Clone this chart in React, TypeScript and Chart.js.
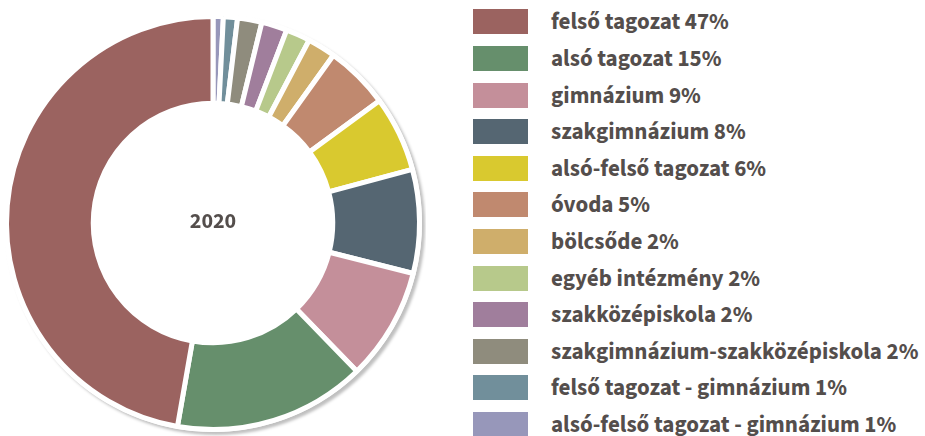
import React, { useEffect, useRef } from "react";
import { Chart, registerables } from "chart.js";

Chart.register(...registerables);

const centerLabel = "2020";
const categories = [
  "felső tagozat",
  "alsó tagozat",
  "gimnázium",
  "szakgimnázium",
  "alsó-felső tagozat",
  "óvoda",
  "bölcsőde",
  "egyéb intézmény",
  "szakközépiskola",
  "szakgimnázium-szakközépiskola",
  "felső tagozat - gimnázium",
  "alsó-felső tagozat - gimnázium",
];
const shares = [47.2, 15.0, 8.8, 8.1, 5.9, 5.0, 2.2, 1.9, 2.0, 1.9, 1.1, 0.8];
const percentLabels = ["47%", "15%", "9%", "8%", "6%", "5%", "2%", "2%", "2%", "2%", "1%", "1%"];
const colors = [
  "#9b6360",
  "#668f6c",
  "#c48f9a",
  "#556672",
  "#d9c92f",
  "#c0896f",
  "#cfae6b",
  "#b7c98b",
  "#a07e9c",
  "#8f8c7d",
  "#718f9b",
  "#9797ba",
];

const FONT = "'Source Sans 3', 'Source Sans Pro', Lato, sans-serif";
const TEXT_COLOR = "#544e4c";

const ringShadow = {
  id: "ringShadow",
  beforeDatasetsDraw(chart: any) {
    const arc = chart.getDatasetMeta(0).data[0];
    if (!arc) return;
    const { x, y, outerRadius } = arc.getProps(["x", "y", "outerRadius"], true);
    const ctx = chart.ctx;
    ctx.save();
    ctx.shadowColor = "rgba(0,0,0,0.25)";
    ctx.shadowBlur = 3;
    ctx.shadowOffsetX = 3;
    ctx.shadowOffsetY = 3;
    ctx.fillStyle = "#ffffff";
    ctx.beginPath();
    ctx.arc(x, y, outerRadius + 2.5, 0, Math.PI * 2);
    ctx.fill();
    ctx.restore();
  },
  afterDatasetsDraw(chart: any) {
    const arc = chart.getDatasetMeta(0).data[0];
    if (!arc) return;
    const { x, y } = arc.getProps(["x", "y"], true);
    const ctx = chart.ctx;
    ctx.save();
    ctx.font = `bold 22px ${FONT}`;
    ctx.fillStyle = TEXT_COLOR;
    ctx.textAlign = "center";
    ctx.textBaseline = "middle";
    ctx.fillText(centerLabel, x, y);
    ctx.restore();
  },
};

export default function App() {
  const canvasRef = useRef<HTMLCanvasElement | null>(null);

  useEffect(() => {
    if (!canvasRef.current) return;
    const order = categories.map((_, i) => i).reverse();
    const chart = new Chart(canvasRef.current, {
      type: "doughnut",
      data: {
        labels: order.map((i) => categories[i]),
        datasets: [
          {
            data: order.map((i) => shares[i]),
            backgroundColor: order.map((i) => colors[i]),
            borderColor: "#ffffff",
            borderWidth: 5,
          },
        ],
      },
      options: {
        responsive: false,
        animation: false,
        cutout: "58%",
        layout: { padding: { left: 4, right: 4, top: 14, bottom: 4 } },
        plugins: {
          legend: { display: false },
          tooltip: { enabled: false },
        },
      },
      plugins: [ringShadow],
    });
    return () => chart.destroy();
  }, []);

  return (
    <div
      style={{
        position: "fixed",
        left: 0,
        top: 0,
        width: 925,
        height: 436,
        background: "#ffffff",
        overflow: "hidden",
      }}
    >
      <canvas
        ref={canvasRef}
        width={426}
        height={436}
        style={{ position: "absolute", left: 0, top: 0, width: 426, height: 436 }}
      />
      {categories.map((name, i) => (
        <div
          key={name}
          style={{
            position: "absolute",
            left: 473,
            top: 9.3 + i * 36.6,
            height: 25,
            display: "flex",
            alignItems: "flex-start",
            whiteSpace: "nowrap",
          }}
        >
          <div style={{ width: 55, height: 25, background: colors[i], flex: "none" }} />
          <span
            style={{
              marginLeft: 23,
              fontFamily: FONT,
              fontWeight: 700,
              fontSize: 23,
              lineHeight: "25px",
              height: 25,
              color: TEXT_COLOR,
            }}
          >
            {`${name} ${percentLabels[i]}`}
          </span>
        </div>
      ))}
    </div>
  );
}
